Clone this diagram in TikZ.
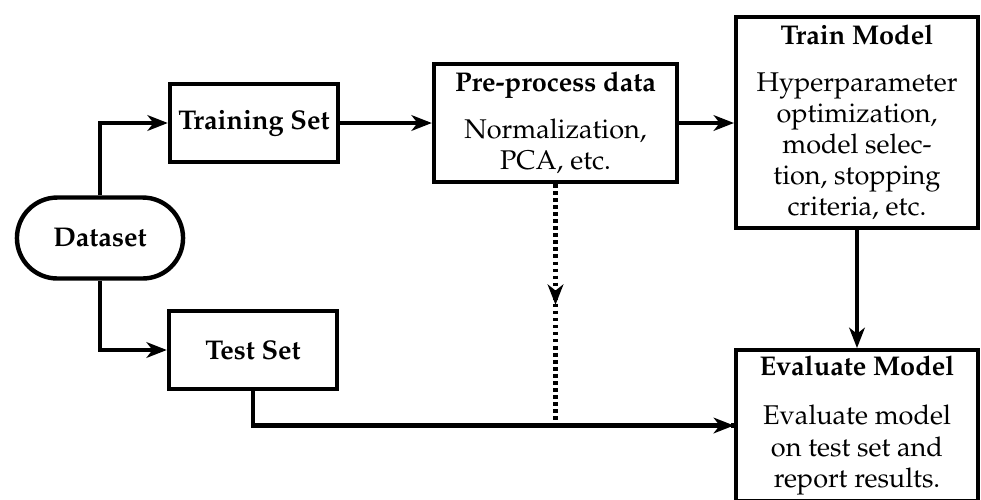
\documentclass[tikz,border=0pt]{standalone}
\usepackage[T1]{fontenc}
\usepackage{mathpazo}
\usetikzlibrary{arrows.meta,decorations.markings}

\tikzset{
  every node/.style={font=\fontsize{10.4}{12}\selectfont},
  box/.style={draw, line width=1.7pt, rectangle, align=center, inner sep=0pt},
  terminal/.style={box, rounded corners=15.5pt, minimum width=63.8pt, minimum height=31.1pt},
  conn/.style={line width=1.7pt, -{Stealth[length=7.8pt,width=6pt,inset=2.3pt]}},
  dotline/.style={line width=1.7pt, dash pattern=on 1.4pt off 1.3pt},
  midarrow/.style={postaction={decorate}, decoration={markings,
      mark=at position 0.5 with {\arrow[solid]{Stealth[length=7.8pt,width=6pt,inset=2.3pt]}}}},
}

\begin{document}
\begin{tikzpicture}[x=0.3841pt, y=-0.3841pt]
  \useasboundingbox (0,0) rectangle (981,499);

  % nodes
  \node[terminal] (ds) at (100,238) {\bfseries Dataset};
  \node[box, minimum width=64.5pt, minimum height=30pt] (trn) at (254,123) {\bfseries Training Set};
  \node[box, minimum width=64.5pt, minimum height=30pt] (tst) at (253,350) {\bfseries Test Set};
  \node[box, minimum width=93.3pt, minimum height=45.3pt] (pre) at (555.5,123)
    {\bfseries Pre-process data\\[6pt] Normalization,\\ PCA, etc.};
  \node[box, minimum width=92.8pt, minimum height=80.9pt] (trm) at (857,122.5)
    {\bfseries Train Model\\[6pt] Hyperparameter\\ optimization,\\ model selec-\\ tion, stopping\\ criteria, etc.};
  \node[box, minimum width=92.8pt, minimum height=57.8pt] (eva) at (857,425.5)
    {\bfseries Evaluate Model\\[7pt] Evaluate model\\ on test set and\\ report results.};

  % connectors
  \draw[conn] (ds.north) |- (trn.west);
  \draw[conn] (ds.south) |- (tst.west);
  \draw[conn] (trn.east) -- (pre.west);
  \draw[conn] (pre.east) -- (trm.west |- pre.east);
  \draw[conn] (trm.south) -- (eva.north);
  \draw[conn] (tst.south) |- (eva.west);

  % dotted path from pre-processing to evaluation
  \coordinate (dturn) at (pre.south |- eva.west);
  \draw[dotline, midarrow] (pre.south) -- (dturn);
  \draw[dotline] (dturn) -- (eva.west);
\end{tikzpicture}
\end{document}
